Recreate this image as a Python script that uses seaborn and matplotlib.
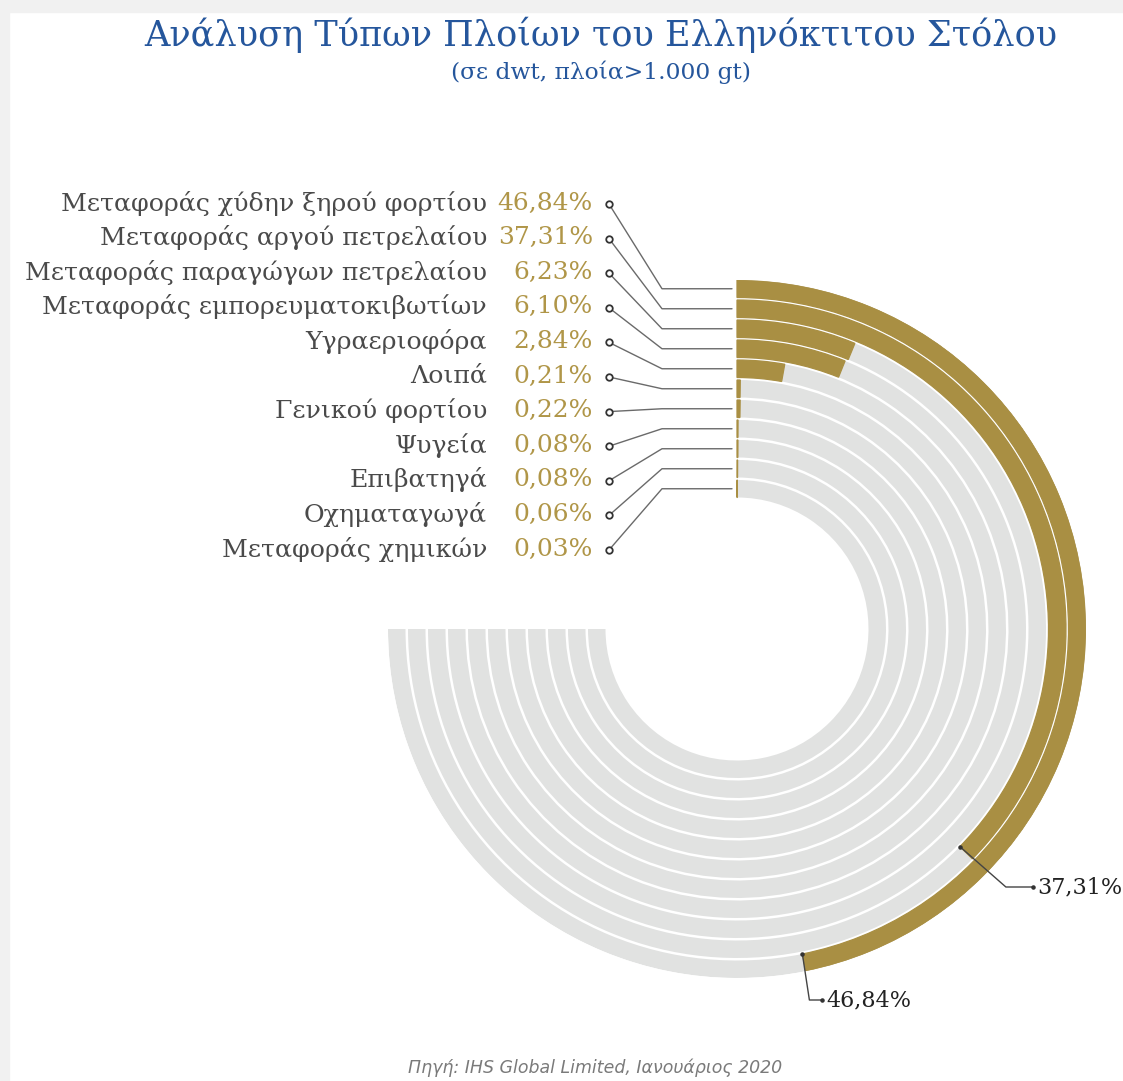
import numpy as np
import matplotlib
matplotlib.use("Agg")
import matplotlib.pyplot as plt
from matplotlib.patches import Rectangle
import seaborn as sns

# ---- data ---------------------------------------------------------------
categories = [
    "Μεταφοράς χύδην ξηρού φορτίου",
    "Μεταφοράς αργού πετρελαίου",
    "Μεταφοράς παραγώγων πετρελαίου",
    "Μεταφοράς εμπορευματοκιβωτίων",
    "Υγραεριοφόρα",
    "Λοιπά",
    "Γενικού φορτίου",
    "Ψυγεία",
    "Επιβατηγά",
    "Οχηματαγωγά",
    "Μεταφοράς χημικών",
]
shares = [46.84, 37.31, 6.23, 6.10, 2.84, 0.21, 0.22, 0.08, 0.08, 0.06, 0.03]
share_labels = ["46,84%", "37,31%", "6,23%", "6,10%", "2,84%", "0,21%",
                "0,22%", "0,08%", "0,08%", "0,06%", "0,03%"]
end_labels = {0: "46,84%", 1: "37,31%"}

title = "Ανάλυση Τύπων Πλοίων του Ελληνόκτιτου Στόλου"
subtitle = "(σε dwt, πλοία>1.000 gt)"
source = "Πηγή: IHS Global Limited, Ιανουάριος 2020"

# ---- style --------------------------------------------------------------
sns.set_theme(style="white")
plt.rcParams["font.family"] = ["DejaVu Serif", "DejaVu Sans"]

GOLD = "#a98f43"
GOLD_TXT = "#b09648"
TRACK = "#e1e2e1"
BLUE = "#25569c"
TXT = "#4a4a4a"
LINE = "#6a6a6a"

W, H = 1123, 1081
fig = plt.figure(figsize=(W / 100, H / 100), dpi=100)
fig.patch.set_facecolor("white")

# card frame strips
fig.patches.append(Rectangle((0, 1 - 12 / H), 1, 12 / H, transform=fig.transFigure,
                             color="#f1f1f1", zorder=0))
fig.patches.append(Rectangle((0, 0), 9 / W, 1, transform=fig.transFigure,
                             color="#f1f1f1", zorder=0))

# ---- radial bars ---------------------------------------------------------
cx, cy = 737, 629          # centre in pixels (from top-left)
R = 349                    # outer radius in pixels
pitch, thick = 20.0, 17.5

pax = fig.add_axes([(cx - R) / W, (H - cy - R) / H, 2 * R / W, 2 * R / H],
                   projection="polar")
pax.set_theta_zero_location("N")
pax.set_theta_direction(-1)
pax.set_ylim(0, R)
pax.axis("off")

n = len(categories)
ring_inner = np.array([R - pitch * i - thick for i in range(n)])
track_span = np.deg2rad(270)
theta = np.deg2rad(np.array(shares) / 100 * 360)

pax.bar(np.zeros(n), [thick] * n, width=track_span, bottom=ring_inner,
        align="edge", color=TRACK, linewidth=0)
pax.bar(np.zeros(n), [thick] * n, width=theta, bottom=ring_inner,
        align="edge", color=GOLD, edgecolor=GOLD, linewidth=0.9)

# ---- overlay in pixel space ----------------------------------------------
ov = fig.add_axes([0, 0, 1, 1], zorder=5)
ov.set_xlim(0, W)
ov.set_ylim(H, 0)
ov.axis("off")
ov.patch.set_alpha(0)

ring_mid_y = cy - (ring_inner + thick / 2)
row_y = 203 + 34.6 * np.arange(n)

x_dot, x_elbow, x_end = 609, 662, 732
for i in range(n):
    ov.plot([x_dot, x_elbow, x_end], [row_y[i] + 1, ring_mid_y[i], ring_mid_y[i]],
            color=LINE, lw=1.0, solid_joinstyle="round", zorder=2)
    ov.text(487, row_y[i], categories[i], ha="right", va="center",
            fontsize=18.2, color=TXT)
    ov.text(593, row_y[i], share_labels[i], ha="right", va="center",
            fontsize=18, color=GOLD_TXT)

sns.scatterplot(x=[x_dot] * n, y=row_y + 1, ax=ov, s=22, marker="o",
                color="white", edgecolor="#333333", linewidth=1.3,
                zorder=4, legend=False)

# value callouts at the end of the two largest bars
callout = {0: (7, 1000, 822), 1: (46, 887, 1033)}
for i, (dx, ly, lx) in callout.items():
    r_in = ring_inner[i]
    px = cx + r_in * np.sin(theta[i])
    py = cy - r_in * np.cos(theta[i])
    ov.plot([px, px + dx, lx], [py, ly, ly], color="#444444", lw=1.0, zorder=3)
    ov.scatter([px, lx], [py, ly], s=5, color="#333333", zorder=4)
    ov.text(lx + 4, ly, end_labels[i], ha="left", va="center",
            fontsize=16, color="#222222")

# ---- titles and source ---------------------------------------------------
ov.text(601, 35, title, ha="center", va="center", fontsize=25.3, color=BLUE)
ov.text(601, 72, subtitle, ha="center", va="center", fontsize=16.8, color=BLUE)
ov.text(595, 1068, source, ha="center", va="center", fontsize=12.5,
        color="#7a7a7a", style="italic", family=["DejaVu Sans"])

fig.savefig("out.png", dpi=100, facecolor="white")
